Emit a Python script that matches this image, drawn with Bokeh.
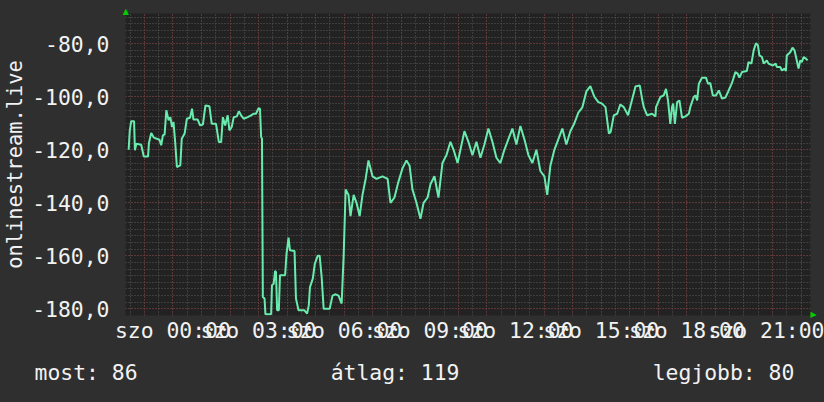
from bokeh.plotting import figure
from bokeh.models import (Range1d, LinearAxis, FixedTicker, Grid, Title,
                          ColumnDataSource)
from bokeh.embed import file_html
from bokeh.resources import INLINE

# ---- data (hours relative to Saturday 00:00, values) ----
hours = [
    -1.55, -1.51, -1.46, -1.36, -1.33, -1.28, -1.11, -1.02, -0.87, -0.84,
    -0.76, -0.67, -0.47, -0.41, -0.35, -0.29, -0.23, -0.15, -0.09, -0.03,
    0.02, 0.08, 0.14, 0.26, 0.31, 0.41, 0.49, 0.60, 0.67, 0.72,
    0.87, 0.95, 1.05, 1.14, 1.28, 1.36, 1.51, 1.61, 1.69, 1.75,
    1.83, 1.92, 1.98, 2.06, 2.13, 2.24, 2.31, 2.39, 2.48, 2.62,
    2.74, 2.82, 2.91, 3.00, 3.05, 3.09, 3.12, 3.15, 3.21, 3.24,
    3.44, 3.47, 3.53, 3.58, 3.61, 3.65, 3.71, 3.75, 3.93, 3.98,
    4.05, 4.10, 4.26, 4.31, 4.40, 4.60, 4.70, 4.76, 4.80, 4.90,
    4.97, 5.07, 5.14, 5.21, 5.28, 5.38, 5.49, 5.59, 5.70, 5.80,
    5.91, 5.98, 6.05, 6.15, 6.22, 6.33, 6.43, 6.54, 6.64, 6.75,
    6.85,
    6.99, 7.13, 7.34, 7.52, 7.62, 7.76, 7.90, 8.04, 8.18, 8.29,
    8.39, 8.53, 8.67, 8.78, 8.92, 9.02, 9.16, 9.30, 9.44, 9.58,
    9.72, 9.83, 9.97, 10.07, 10.21, 10.35, 10.49, 10.63, 10.77, 10.91,
    11.05, 11.19, 11.33, 11.47, 11.61, 11.75, 11.89, 12.03, 12.17, 12.31,
    12.45, 12.59, 12.73, 12.87, 13.01, 13.11, 13.22, 13.36, 13.50, 13.64,
    13.78, 13.92, 14.06, 14.20, 14.34, 14.48, 14.62, 14.76, 14.90,
    15.03, 15.15, 15.27, 15.33, 15.44, 15.56, 15.67, 15.79, 15.94, 16.06,
    16.20, 16.35, 16.43, 16.49, 16.61, 16.78, 16.90, 16.92, 17.07, 17.19,
    17.27, 17.34, 17.42, 17.48, 17.52, 17.58, 17.66, 17.74, 17.83, 17.95,
    18.07, 18.12, 18.24, 18.30, 18.36, 18.42, 18.53, 18.67, 18.74, 18.82,
    18.91, 19.02, 19.12, 19.23, 19.35, 19.44, 19.58, 19.70, 19.78, 19.84,
    19.93, 20.10, 20.16, 20.26, 20.34, 20.42, 20.49, 20.54, 20.63, 20.69,
    20.80, 20.86, 21.01, 21.11, 21.15, 21.27, 21.33, 21.42, 21.47, 21.50,
    21.62, 21.70, 21.77, 21.85, 21.91, 21.97, 22.03, 22.09, 22.17, 22.23,
]
values = [
    -120.0, -112.7, -109.2, -109.2, -120.2, -117.7, -118.1, -122.5, -122.5, -117.5,
    -113.7, -115.4, -116.2, -118.3, -114.6, -114.2, -105.1, -108.9, -107.7, -111.4,
    -109.5, -117.1, -126.5, -125.9, -115.8, -113.9, -108.3, -107.9, -104.5, -108.6,
    -108.6, -110.8, -110.5, -103.3, -103.6, -110.2, -110.2, -117.1, -117.1, -107.7,
    -110.8, -107.0, -112.7, -111.4, -107.7, -107.4, -105.5, -107.0, -108.3, -107.7,
    -107.0, -106.4, -106.4, -104.3, -104.5, -115.2, -115.8, -175.5, -176.1, -182.0,
    -182.0, -171.1, -170.5, -165.7, -166.1, -180.5, -180.5, -167.3, -167.3, -159.2,
    -153.1, -157.9, -158.2, -176.1, -180.5, -180.5, -181.8, -178.6, -171.8, -168.6,
    -163.0, -160.0, -160.0, -168.0, -180.0, -180.0, -180.0, -175.0, -174.5, -175.0,
    -178.0, -160.0, -135.0, -137.0, -145.0, -137.0, -140.0, -145.0, -137.0, -131.0,
    -124.0,
    -130.0, -131.0, -130.0, -131.0, -140.0, -138.0, -132.0, -127.0, -124.0, -126.0,
    -135.0, -140.0, -146.0, -140.0, -138.0, -133.0, -130.0, -138.0, -125.0, -122.0,
    -117.0, -120.0, -125.0, -120.0, -113.0, -117.0, -122.0, -117.0, -123.0, -118.0,
    -112.0, -117.0, -123.0, -125.0, -120.0, -116.0, -112.0, -118.0, -111.0, -116.0,
    -122.0, -125.0, -120.0, -128.0, -130.0, -137.0, -126.0, -120.0, -116.0, -112.0,
    -118.0, -113.0, -110.0, -106.0, -104.0, -98.0, -96.0, -100.0, -102.0,
    -102.6, -103.9, -113.9, -113.3, -107.0, -106.4, -102.9, -103.9, -107.0, -102.0,
    -96.1, -95.7, -100.7, -103.9, -107.0, -106.4, -107.4, -103.9, -100.1, -99.5,
    -97.0, -101.4, -110.2, -103.9, -102.6, -110.2, -102.0, -101.4, -107.9, -107.4,
    -106.4, -103.9, -100.1, -99.5, -101.4, -95.1, -92.8, -92.8, -95.1, -94.8,
    -99.5, -99.5, -97.6, -100.7, -100.3, -98.2, -94.8, -90.7, -91.3, -92.8,
    -90.7, -90.3, -86.9, -87.5, -82.5, -79.8, -80.6, -84.4, -85.0, -87.5,
    -86.3, -87.5, -88.2, -87.5, -88.8, -88.8, -90.1, -89.4, -90.3, -84.4,
    -83.2, -81.5, -82.5, -86.3, -89.4, -86.3, -86.9, -85.0, -85.6, -86.3,
]

x_ticks = [0, 3, 6, 9, 12, 15, 18, 21]
x_tick_labels = ["szo 00:00", "szo 03:00", "szo 06:00", "szo 09:00",
                 "szo 12:00", "szo 15:00", "szo 18:00", "szo 21:00"]
y_ticks = [-180, -160, -140, -120, -100, -80]
y_tick_labels = ["-180,0", "-160,0", "-140,0", "-120,0", "-100,0", "-80,0"]
y_title = "onlinestream.live"
stat_names = ["most", "átlag", "legjobb"]
stat_values = [86, 119, 80]

x_start, x_end = -1.66, 22.33
y_start, y_end = -182.5, -68.6

FONT = "DejaVu Sans Mono"
FS = "21.4px"
FS_TITLE = "20.4px"
TXT = "#f2f2f2"
BACK = "#2f2f2f"
CANVAS = "#222222"
ARROW = "#00cc00"

p = figure(width=824, height=402, output_backend="svg", toolbar_location=None,
           x_range=Range1d(x_start, x_end), y_range=Range1d(y_start, y_end),
           x_axis_type=None, y_axis_type=None,
           min_border_left=124, min_border_right=14, min_border_top=13,
           min_border_bottom=87,
           background_fill_color=CANVAS, border_fill_color=BACK,
           outline_line_color=None)

# grids: minor (grey dotted) then major (red dotted)
half_hours = [h / 2 for h in range(-3, 45)]
whole_hours = list(range(-1, 23))
minor_y = [-182.5 + 2.5 * i for i in range(0, 46)]
p.add_layout(Grid(dimension=0, ticker=FixedTicker(ticks=half_hours),
                  grid_line_color="#585858", grid_line_dash="1 2"))
p.add_layout(Grid(dimension=1, ticker=FixedTicker(ticks=minor_y),
                  grid_line_color="#585858", grid_line_dash="1 2"))
p.add_layout(Grid(dimension=0, ticker=FixedTicker(ticks=whole_hours),
                  grid_line_color="#7c3434", grid_line_dash="1 2"))
p.add_layout(Grid(dimension=1, ticker=FixedTicker(ticks=y_ticks),
                  grid_line_color="#7c3434", grid_line_dash="1 2"))

common = dict(axis_line_color=None, major_tick_line_color=None,
              minor_tick_line_color=None, major_tick_out=0, major_tick_in=0,
              minor_tick_out=0, minor_tick_in=0)

xaxis = LinearAxis(ticker=FixedTicker(ticks=x_ticks),
                   major_label_overrides={float(t): l for t, l in zip(x_ticks, x_tick_labels)},
                   major_label_standoff=2,
                   major_label_text_font=FONT, major_label_text_font_size=FS,
                   major_label_text_color=TXT, **common)
p.add_layout(xaxis, "below")

yaxis = LinearAxis(ticker=FixedTicker(ticks=y_ticks),
                   major_label_overrides={float(t): l for t, l in zip(y_ticks, y_tick_labels)},
                   major_label_standoff=16,
                   major_label_text_font=FONT, major_label_text_font_size=FS,
                   major_label_text_color=TXT,
                   axis_label=y_title, axis_label_standoff=2,
                   axis_label_text_font=FONT, axis_label_text_font_size=FS_TITLE,
                   axis_label_text_font_style="normal", axis_label_text_color=TXT,
                   **common)
p.add_layout(yaxis, "left")

# green arrow heads at the axis ends
up_tick = x_start + 0.01
top_axis = LinearAxis(ticker=FixedTicker(ticks=[up_tick]),
                      major_label_overrides={up_tick: "▲"}, major_label_standoff=-2,
                      major_label_text_font="DejaVu Sans", major_label_text_font_size="8px",
                      major_label_text_color=ARROW, **common)
p.add_layout(top_axis, "above")
rt_tick = y_start + 0.4
right_axis = LinearAxis(ticker=FixedTicker(ticks=[rt_tick]),
                        major_label_overrides={rt_tick: "▶"}, major_label_standoff=0,
                        major_label_text_font="DejaVu Sans", major_label_text_font_size="8px",
                        major_label_text_color=ARROW, **common)
p.add_layout(right_axis, "right")

src = ColumnDataSource(data=dict(h=hours, v=values))
p.line("h", "v", source=src, line_color="#68ecae", line_width=2)

# summary line (monospace, columns separated by non-breaking spaces)
gaps = ["\u00a0" * 15, "\u00a0" * 15]
parts = [f"{n}: {v}" for n, v in zip(stat_names, stat_values)]
summary = parts[0] + gaps[0] + parts[1] + gaps[1] + parts[2]
p.add_layout(Title(text=summary, align="left", offset=-91, standoff=25,
                   text_font=FONT, text_font_size=FS, text_font_style="normal",
                   text_color=TXT), "below")

html = file_html(p, INLINE, title="onlinestream.live")
html = html.replace("<head>", "<head><style>html,body{margin:0;padding:0;background:%s;overflow:hidden;}</style>" % BACK, 1)
open("out.html", "w").write(html)
